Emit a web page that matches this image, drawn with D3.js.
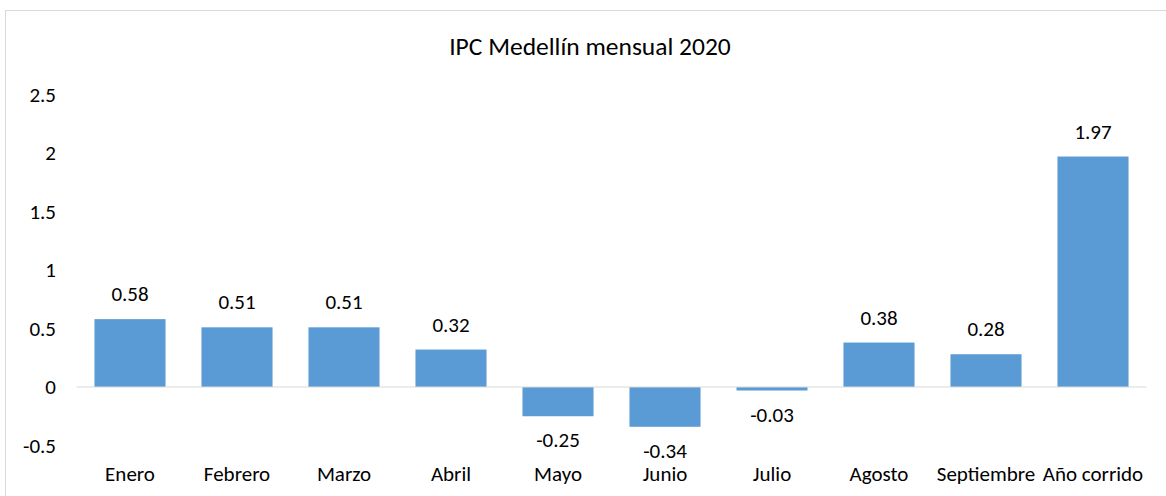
<!DOCTYPE html>
<html>
<head>
<meta charset="utf-8">
<script src="https://cdn.jsdelivr.net/npm/d3@7"></script>
<style>
  body { margin: 0; background: #fff; }
  text { font-family: Carlito, Calibri, Lato, sans-serif; fill: #000; }
</style>
</head>
<body>
<div id="chart"></div>
<script>
// data
var months = ["Enero", "Febrero", "Marzo", "Abril", "Mayo", "Junio", "Julio", "Agosto", "Septiembre", "Año corrido"];
var ipc = [0.58, 0.51, 0.51, 0.32, -0.25, -0.34, -0.03, 0.38, 0.28, 1.97];
var yTicks = [-0.5, 0, 0.5, 1, 1.5, 2, 2.5];

var svgWidth = 1166;
var svgHeight = 496;

var margin = { top: 94.5, right: 19.5, bottom: 50.5, left: 76.5 };
var width = svgWidth - margin.left - margin.right;
var height = svgHeight - margin.top - margin.bottom;

var svg = d3.select("#chart")
  .append("svg")
  .attr("width", svgWidth)
  .attr("height", svgHeight);

// chart area border
svg.append("rect")
  .attr("x", 5.5)
  .attr("y", 10.5)
  .attr("width", 1200)
  .attr("height", 600)
  .attr("fill", "none")
  .attr("stroke", "#d9d9d9");

svg.append("text")
  .attr("x", 590)
  .attr("y", 55)
  .attr("text-anchor", "middle")
  .style("font-size", "25.5px")
  .text("IPC Medellín mensual 2020");

var chartGroup = svg.append("g")
  .attr("transform", `translate(${margin.left}, ${margin.top})`);

var xScale = d3.scaleBand()
  .domain(months)
  .range([0, width])
  .paddingInner(0.336)
  .paddingOuter(0.168);

var yScale = d3.scaleLinear()
  .domain([-0.5, 2.5])
  .range([height, 0]);

// y axis labels only, no line
var leftAxis = d3.axisLeft(yScale).tickValues(yTicks).tickSize(0).tickPadding(20.5).tickFormat(d => d);
var yAxis = chartGroup.append("g").call(leftAxis);
yAxis.select(".domain").remove();
yAxis.selectAll("text")
  .style("font-size", "21px")
  .style("font-family", "Carlito, Calibri, Lato, sans-serif")
  .attr("fill", "#000");

// bars
chartGroup.append("g").selectAll("rect")
  .data(ipc)
  .enter()
  .append("rect")
  .attr("x", (d, i) => xScale(months[i]))
  .attr("y", d => yScale(Math.max(0, d)))
  .attr("width", xScale.bandwidth())
  .attr("height", d => Math.abs(yScale(d) - yScale(0)))
  .attr("fill", "#5b9bd5");

// zero line
chartGroup.append("line")
  .attr("x1", 0)
  .attr("x2", width)
  .attr("y1", yScale(0))
  .attr("y2", yScale(0))
  .attr("stroke", "#d9d9d9")
  .attr("stroke-width", 1);

// value labels
chartGroup.append("g").selectAll("text")
  .data(ipc)
  .enter()
  .append("text")
  .attr("x", (d, i) => xScale(months[i]) + xScale.bandwidth() / 2)
  .attr("y", d => d >= 0 ? yScale(d) - 18 : yScale(d) + 31)
  .attr("text-anchor", "middle")
  .style("font-size", "21px")
  .text(d => d.toFixed(2));

// category labels
chartGroup.append("g").selectAll("text")
  .data(months)
  .enter()
  .append("text")
  .attr("x", d => xScale(d) + xScale.bandwidth() / 2)
  .attr("y", height + 35)
  .attr("text-anchor", "middle")
  .style("font-size", "21px")
  .text(d => d);
</script>
</body>
</html>
